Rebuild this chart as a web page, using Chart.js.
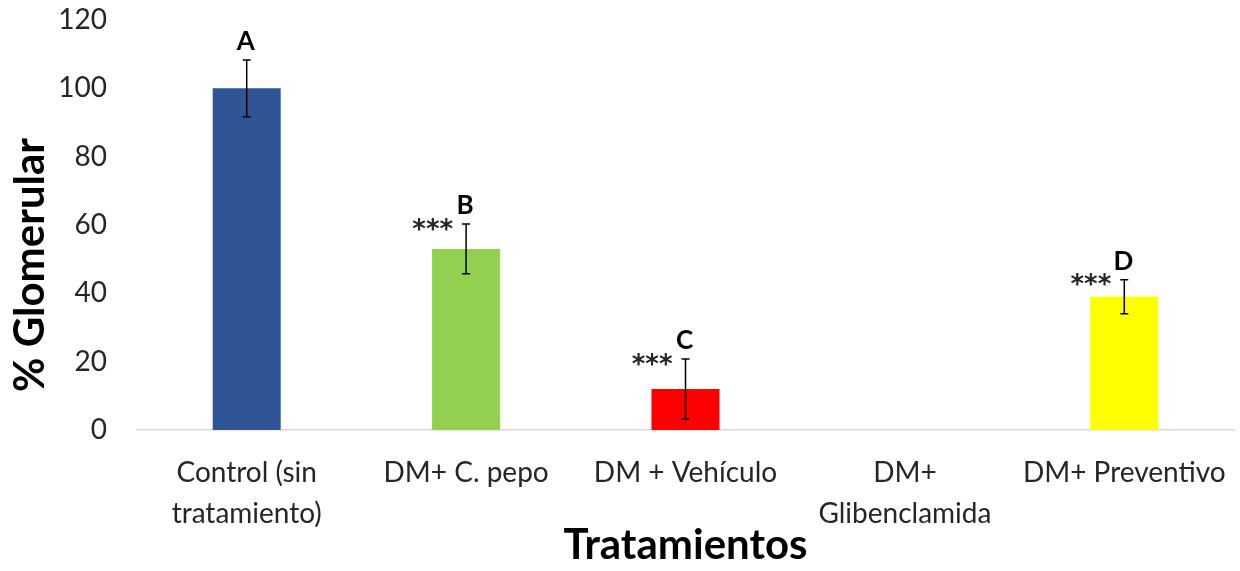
<!DOCTYPE html>
<html>
<head>
<meta charset="utf-8">
<script src="https://cdn.jsdelivr.net/npm/chart.js@4.4.0/dist/chart.umd.min.js"></script>
<style>
  html, body { margin: 0; padding: 0; background: #ffffff; }
  #wrap { width: 1240px; height: 571px; }
</style>
</head>
<body>
<div id="wrap"><canvas id="grafico" width="1240" height="571"></canvas></div>
<script>
// ---------- dados ----------
const categorias = [
  ["Control (sin", "tratamiento)"],
  "DM+ C. pepo",
  "DM + Vehículo",
  ["DM+", "Glibenclamida"],
  "DM+ Preventivo"
];
const valores = [100, 53, 12, 0, 39];
const erros = [8.3, 7.3, 8.8, 0, 5];
const letras = ["A", "B", "C", "", "D"];
const asteriscos = ["", "***", "***", "", "***"];
const cores = ["#2F5597", "#92D050", "#FF0000", "#FFFF00", "#FFFF00"];
const yTicks = [0, 20, 40, 60, 80, 100, 120];

const FONTE = "Lato, 'Open Sans', sans-serif";

// ---------- plugin: barras de erro, letras e título Y ----------
const anotacoes = {
  id: "anotacoes",
  afterDatasetsDraw(chart) {
    const ctx = chart.ctx;
    const x = chart.scales.x;
    const y = chart.scales.y;
    ctx.save();
    valores.forEach((v, i) => {
      const cx = x.getPixelForValue(i);
      const e = erros[i];
      const topo = y.getPixelForValue(v + e);
      if (e > 0) {
        const base = y.getPixelForValue(v - e);
        ctx.strokeStyle = "#000000";
        ctx.lineWidth = 1.5;
        ctx.beginPath();
        ctx.moveTo(cx, topo); ctx.lineTo(cx, base);
        ctx.moveTo(cx - 4, topo); ctx.lineTo(cx + 4, topo);
        ctx.moveTo(cx - 4, base); ctx.lineTo(cx + 4, base);
        ctx.stroke();
      }
      if (letras[i]) {
        ctx.fillStyle = "#000000";
        ctx.font = "bold 26px " + FONTE;
        ctx.textAlign = "center";
        ctx.textBaseline = "middle";
        ctx.fillText(letras[i], cx - 1, topo - 18);
      }
      if (asteriscos[i]) {
        ctx.fillStyle = "#262626";
        ctx.font = "bold 26px 'DejaVu Sans', sans-serif";
        ctx.textAlign = "right";
        ctx.textBaseline = "middle";
        ctx.fillText(asteriscos[i], cx - 13, topo + 7);
      }
    });

    // título do eixo Y (desenhado à mão para ficar na mesma posição)
    ctx.translate(30, 265);
    ctx.rotate(-Math.PI / 2);
    ctx.fillStyle = "#000000";
    ctx.font = "bold 42px " + FONTE;
    ctx.textAlign = "center";
    ctx.textBaseline = "middle";
    ctx.fillText("% Glomerular", 0, 0);
    ctx.restore();
  }
};

// ---------- gráfico ----------
new Chart(document.getElementById("grafico").getContext("2d"), {
  type: "bar",
  data: {
    labels: categorias,
    datasets: [{
      data: valores,
      backgroundColor: cores,
      barPercentage: 0.31,
      categoryPercentage: 1.0
    }]
  },
  options: {
    responsive: false,
    animation: false,
    layout: { padding: { top: 0, right: 6, left: 0, bottom: 0 } },
    plugins: {
      legend: { display: false },
      tooltip: { enabled: false }
    },
    scales: {
      x: {
        grid: { display: false, drawTicks: false },
        border: { display: true, color: "#D9D9D9", width: 1.5 },
        ticks: {
          color: "#262626",
          font: { family: FONTE, size: 28, lineHeight: 1.45 },
          padding: 23,
          maxRotation: 0,
          autoSkip: false
        },
        title: {
          display: true,
          text: "Tratamientos",
          color: "#000000",
          font: { family: FONTE, size: 42, weight: "bold" },
          padding: { top: 0, bottom: 0 }
        },
        afterFit(scale) {
          scale.height = 141;
          scale.paddingLeft = 0;
          scale.paddingRight = 0;
        }
      },
      y: {
        min: 0,
        max: 120,
        afterBuildTicks(scale) { scale.ticks = yTicks.map((v) => ({ value: v })); },
        grid: { display: false, drawTicks: false },
        border: { display: false },
        ticks: {
          color: "#262626",
          font: { family: FONTE, size: 28 },
          padding: 30
        },
        afterFit(scale) {
          scale.width = 137;
          scale.paddingTop = 20;
          scale.paddingBottom = 0;
        }
      }
    }
  },
  plugins: [anotacoes]
});
</script>
</body>
</html>
